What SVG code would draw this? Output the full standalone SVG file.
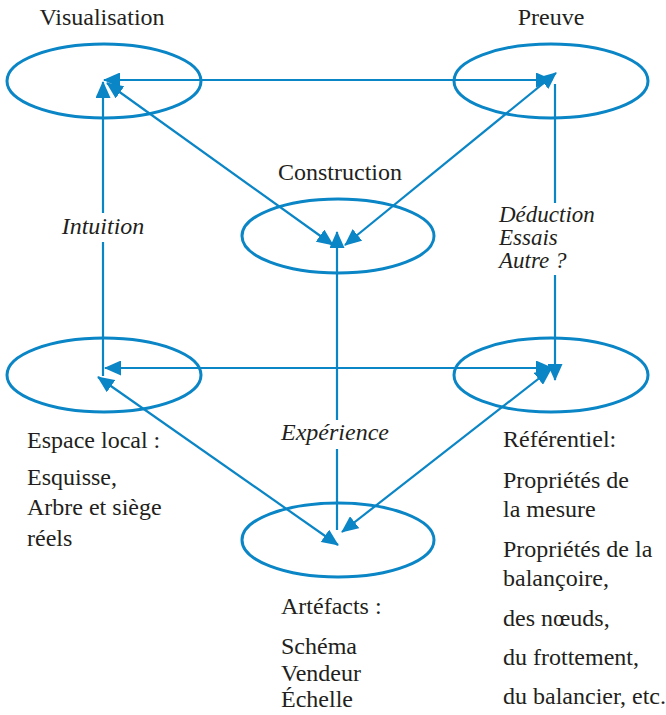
<svg xmlns="http://www.w3.org/2000/svg" width="666" height="715" viewBox="0 0 666 715">
<style>
.node ellipse{fill:none;stroke:#0a85c5;stroke-width:3}
.edge{stroke:#0a85c5;stroke-width:2.2;fill:none}
.txt{font-family:'Liberation Serif','Times New Roman',serif;font-size:24px;fill:#231f20}
.it{font-style:italic}
.mid{text-anchor:middle}
.bg{fill:#fff}
</style>
<defs>
<marker id="ah" viewBox="0 0 17 15" markerWidth="17" markerHeight="15" refX="16" refY="7.5" markerUnits="userSpaceOnUse" orient="auto-start-reverse">
<path d="M0,0 L17,7.5 L0,15 z" fill="#0a85c5"/>
</marker>
</defs>
<rect width="666" height="715" fill="#fff"/>
<g id="nodes" class="txt">
<g id="visualisation" class="node"><ellipse cx="104" cy="81" rx="97" ry="37"/><text class="mid" x="102" y="25">Visualisation</text></g>
<g id="preuve" class="node"><ellipse cx="551" cy="81" rx="97" ry="37"/><text class="mid" x="551" y="25">Preuve</text></g>
<g id="construction" class="node"><ellipse cx="338" cy="236" rx="96" ry="37"/><text class="mid" x="340" y="180">Construction</text></g>
<g id="espace-local" class="node"><ellipse cx="104" cy="375" rx="97" ry="37"/>
<text x="27" y="448">Espace local :</text>
<text x="27" y="485">Esquisse,</text>
<text x="27" y="515">Arbre et siège</text>
<text x="27" y="546">réels</text></g>
<g id="referentiel" class="node"><ellipse cx="551" cy="375" rx="97" ry="37"/>
<text x="503" y="447">Référentiel:</text>
<text x="503" y="488">Propriétés de</text>
<text x="503" y="517">la mesure</text>
<text x="503" y="557">Propriétés de la</text>
<text x="503" y="586">balançoire,</text>
<text x="503" y="626">des nœuds,</text>
<text x="503" y="665">du frottement,</text>
<text x="503" y="704">du balancier, etc.</text></g>
<g id="artefacts" class="node"><ellipse cx="338" cy="540" rx="96" ry="37"/>
<text x="281" y="614">Artéfacts :</text>
<text x="281" y="654">Schéma</text>
<text x="281" y="681">Vendeur</text>
<text x="281" y="707">Échelle</text></g>
</g>
<g id="connectors">
<line class="edge" x1="104" y1="80" x2="552" y2="80" marker-start="url(#ah)" marker-end="url(#ah)"/>
<line class="edge" x1="105" y1="368" x2="552" y2="368" marker-start="url(#ah)" marker-end="url(#ah)"/>
<line class="edge" x1="103" y1="376" x2="103" y2="82" marker-end="url(#ah)"/>
<line class="edge" x1="555" y1="84" x2="555" y2="380" marker-end="url(#ah)"/>
<line class="edge" x1="107" y1="83" x2="333" y2="245" marker-start="url(#ah)" marker-end="url(#ah)"/>
<line class="edge" x1="556" y1="73" x2="345" y2="245" marker-start="url(#ah)" marker-end="url(#ah)"/>
<line class="edge" x1="337" y1="530" x2="337" y2="232" marker-end="url(#ah)"/>
<line class="edge" x1="98" y1="377" x2="338" y2="545" marker-start="url(#ah)" marker-end="url(#ah)"/>
<line class="edge" x1="551" y1="369" x2="342" y2="532" marker-start="url(#ah)" marker-end="url(#ah)"/>
</g>
<g id="edge-labels" class="txt it">
<g id="label-intuition"><rect class="bg" x="56" y="213" width="94" height="29"/><text class="mid" x="103" y="234">Intuition</text></g>
<g id="label-deduction" font-size="23"><rect class="bg" x="496" y="203" width="130" height="72"/><text x="499" y="222">Déduction</text><text x="499" y="245">Essais</text><text x="499" y="268">Autre ?</text></g>
<g id="label-experience"><rect class="bg" x="276" y="420" width="120" height="29"/><text class="mid" x="335" y="440">Expérience</text></g>
</g>
</svg>
